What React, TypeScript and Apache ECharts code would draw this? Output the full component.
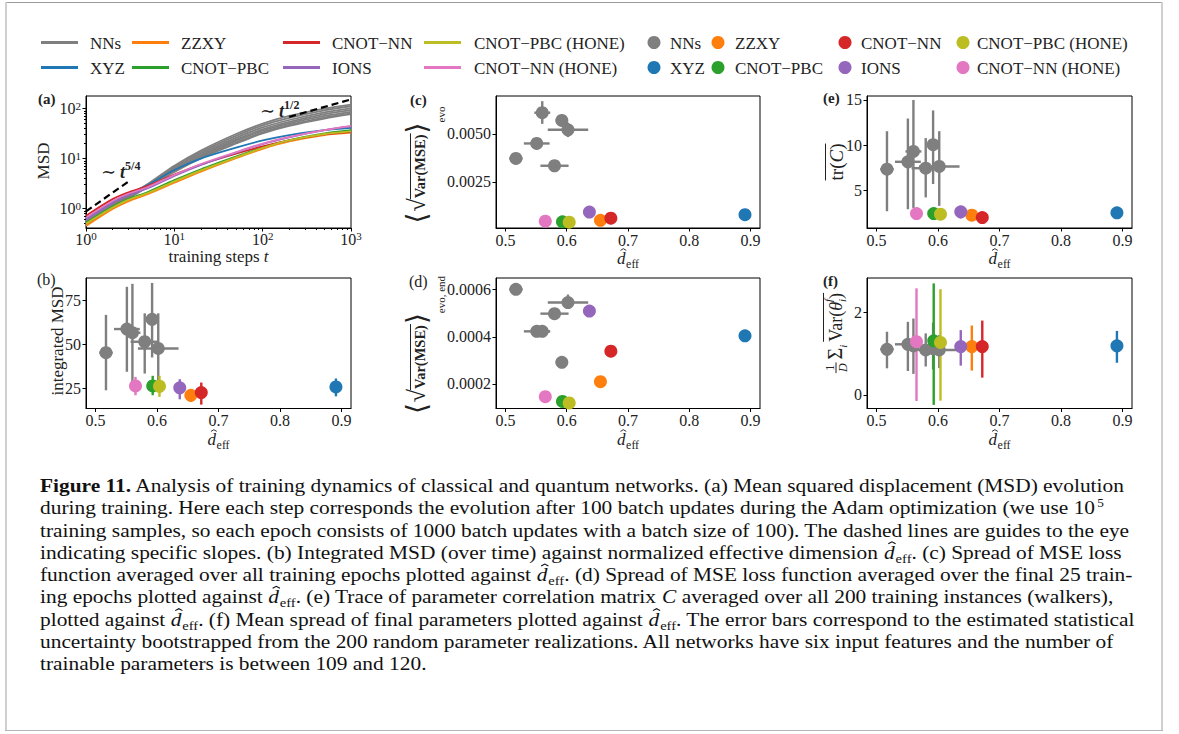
import React, { useEffect, useRef } from "react";
import * as echarts from "echarts";

const FONT = "'Liberation Serif', 'DejaVu Serif', serif";
const INK = "#222222";

// ---------- groups ----------
const GROUP_NAMES = ["NNs", "XYZ", "ZZXY", "CNOT−PBC", "CNOT−NN", "IONS", "CNOT−PBC (HONE)", "CNOT−NN (HONE)"];
const GROUP_COLORS = ["#7f7f7f", "#1f77b4", "#ff7f0e", "#2ca02c", "#d62728", "#9467bd", "#bcbd22", "#e377c2"];

// ---------- panel (a): MSD vs training steps ----------
const STEPS = [1, 2, 3, 5, 10, 20, 50, 100, 200, 500, 1000];
const MSD_NNS = [
  [0.55, 1.22, 1.83, 3.1, 7.2, 14.5, 31, 50, 71, 100, 120],
  [0.53, 1.18, 1.77, 3.0, 6.8, 13.5, 28.5, 46, 65, 92, 111],
  [0.51, 1.14, 1.71, 2.9, 6.4, 12.6, 26, 42, 59, 84, 101],
  [0.5, 1.12, 1.68, 2.85, 6.1, 11.8, 24, 38.5, 54, 77, 93],
  [0.49, 1.1, 1.65, 2.8, 5.8, 11.1, 22.5, 36, 50.5, 71, 86],
  [0.48, 1.08, 1.62, 2.75, 5.6, 10.6, 21, 33.5, 47, 66, 80],
  [0.47, 1.06, 1.6, 2.7, 5.4, 10.2, 20, 32, 45, 63, 77],
];
const MSD_XYZ = [0.62, 1.35, 1.95, 2.95, 5.9, 10.0, 16.5, 23, 29.5, 37, 41];
const MSD_ZZXY = [0.45, 0.98, 1.4, 1.95, 3.3, 5.5, 10.2, 15.7, 22, 29.5, 33];
const MSD_CNOT_PBC = [0.52, 1.1, 1.55, 2.15, 3.7, 6.1, 11, 16.8, 23.5, 32, 37];
const MSD_CNOT_NN = [0.72, 1.55, 2.1, 2.85, 4.8, 7.6, 12.5, 17.5, 23, 30.5, 34];
const MSD_IONS = [0.6, 1.3, 1.85, 2.55, 4.5, 7.5, 13.2, 19.5, 26.5, 37, 44];
const MSD_CNOT_PBC_HONE = [0.5, 1.05, 1.5, 2.05, 3.5, 5.8, 10.6, 16.3, 23, 31, 35];
const MSD_CNOT_NN_HONE = [0.66, 1.42, 1.98, 2.7, 4.7, 7.8, 13.5, 20, 27, 37, 45];
const GUIDE_T54 = [[1, 0.88], [3, 3.45]];
const GUIDE_T12 = [[200, 68], [1000, 152]];
const LOG_MAJOR_X = [1, 10, 100, 1000];
const LOG_MINOR_X = [2, 3, 4, 5, 6, 7, 8, 9, 20, 30, 40, 50, 60, 70, 80, 90, 200, 300, 400, 500, 600, 700, 800, 900];
const LOG_MAJOR_Y = [1, 10, 100];
const LOG_MINOR_Y = [0.5, 0.6, 0.7, 0.8, 0.9, 2, 3, 4, 5, 6, 7, 8, 9, 20, 30, 40, 50, 60, 70, 80, 90];

// ---------- normalized effective dimension ----------
const DEFF_NNS = [0.517, 0.551, 0.56, 0.58, 0.592, 0.602];
const DEFF_NNS_ERR = [0.011, 0.021, 0.013, 0.023, 0.01, 0.033];
// order: XYZ, ZZXY, CNOT−PBC, CNOT−NN, IONS, CNOT−PBC (HONE), CNOT−NN (HONE)
const DEFF_QNN = [0.891, 0.655, 0.593, 0.672, 0.637, 0.604, 0.565];

// ---------- panel (b): integrated MSD ----------
const IMSD_NNS = [45.3, 58.7, 56.6, 51.5, 64.2, 47.7];
const IMSD_NNS_LO = [24.0, 34.5, 24.0, 33.5, 42.6, 24.5];
const IMSD_NNS_HI = [66.7, 82.6, 84.3, 67.6, 84.8, 67.6];
const IMSD_QNN = [25.9, 21.2, 26.5, 22.7, 25.4, 26.3, 26.5];
const IMSD_QNN_LO = [20.6, 17.4, 21.2, 15.9, 18.9, 20.3, 21.2];
const IMSD_QNN_HI = [30.7, 24.0, 32.2, 28.4, 30.3, 32.2, 31.6];

// ---------- panel (c): spread of MSE over all epochs ----------
const SPREAD_EVO_NNS = [0.00372, 0.0045, 0.0061, 0.00334, 0.0057, 0.00521];
const SPREAD_EVO_NNS_LO = [0.00348, 0.0044, 0.00552, 0.00325, 0.00544, 0.00483];
const SPREAD_EVO_NNS_HI = [0.00399, 0.0046, 0.0067, 0.00343, 0.006, 0.00558];
const SPREAD_EVO_QNN = [0.00079, 0.0005, 0.00042, 0.00061, 0.00093, 0.0004, 0.000455];
const SPREAD_EVO_QNN_LO = [0.00077, 0.00048, 0.0004, 0.00059, 0.00091, 0.00038, 0.000435];
const SPREAD_EVO_QNN_HI = [0.00081, 0.00052, 0.00044, 0.00063, 0.00095, 0.00042, 0.000475];

// ---------- panel (d): spread of MSE over final epochs ----------
const SPREAD_END_NNS = [0.000601, 0.000423, 0.000423, 0.000498, 0.000292, 0.000545];
const SPREAD_END_NNS_LO = [0.000595, 0.000417, 0.000417, 0.000492, 0.000286, 0.000519];
const SPREAD_END_NNS_HI = [0.000607, 0.000429, 0.000429, 0.000504, 0.000298, 0.000579];
const SPREAD_END_QNN = [0.000404, 0.00021, 0.000126, 0.000339, 0.000509, 0.00012, 0.000146];
const SPREAD_END_QNN_LO = [0.000401, 0.000207, 0.000123, 0.000336, 0.000506, 0.000117, 0.000143];
const SPREAD_END_QNN_HI = [0.000407, 0.000213, 0.000129, 0.000342, 0.000512, 0.000123, 0.000149];

// ---------- panel (e): trace of correlation matrix ----------
const TRC_NNS = [7.37, 8.19, 9.33, 7.48, 10.07, 7.67];
const TRC_NNS_LO = [2.74, 2.96, 3.1, 4.26, 5.74, 3.33];
const TRC_NNS_HI = [11.56, 12.96, 15.0, 10.8, 13.85, 11.56];
const TRC_QNN = [2.56, 2.3, 2.48, 2.04, 2.67, 2.41, 2.48];
const TRC_QNN_LO = [2.4, 2.15, 2.33, 1.9, 1.93, 2.26, 2.33];
const TRC_QNN_HI = [2.72, 2.45, 2.63, 2.18, 3.33, 2.56, 2.63];

// ---------- panel (f): mean spread of final parameters ----------
const VARF_NNS = [1.105, 1.226, 1.19, 1.09, 1.12, 1.09];
const VARF_NNS_LO = [0.645, 0.58, 0.51, 0.69, 0.62, 0.65];
const VARF_NNS_HI = [1.53, 1.77, 1.85, 1.49, 1.75, 1.45];
const VARF_QNN = [1.19, 1.17, 1.31, 1.17, 1.17, 1.27, 1.29];
const VARF_QNN_LO = [0.78, 0.59, -0.24, 0.42, 0.71, -0.137, -0.145];
const VARF_QNN_HI = [1.55, 1.68, 2.7, 1.8, 1.57, 2.56, 2.58];

const X_DEFF_TICKS = [0.5, 0.6, 0.7, 0.8, 0.9];

const CAPTION_LINES = [
  "**Figure 11.** Analysis of training dynamics of classical and quantum networks. (a) Mean squared displacement (MSD) evolution",
  "during training. Here each step corresponds the evolution after 100 batch updates during the Adam optimization (we use 10^5^",
  "training samples, so each epoch consists of 1000 batch updates with a batch size of 100). The dashed lines are guides to the eye",
  "indicating specific slopes. (b) Integrated MSD (over time) against normalized effective dimension @. (c) Spread of MSE loss",
  "function averaged over all training epochs plotted against @. (d) Spread of MSE loss function averaged over the final 25 train-",
  "ing epochs plotted against @. (e) Trace of parameter correlation matrix _C_ averaged over all 200 training instances (walkers),",
  "plotted against @. (f) Mean spread of final parameters plotted against @. The error bars correspond to the estimated statistical",
  "uncertainty bootstrapped from the 200 random parameter realizations. All networks have six input features and the number of",
  "trainable parameters is between 109 and 120.",
];

// ---------- text helpers ----------
type Piece = {
  t: string; s: number; it?: boolean; b?: boolean; dy?: number; cy?: number; dx?: number; adv?: number;
  al?: "left" | "center"; fill?: string; hat?: boolean;
};

let measureCtx: CanvasRenderingContext2D | null = null;
function textW(t: string, s: number, it?: boolean, b?: boolean): number {
  if (!measureCtx) measureCtx = document.createElement("canvas").getContext("2d");
  if (!measureCtx) return t.length * s * 0.5;
  measureCtx.font = `${it ? "italic " : ""}${b ? "bold " : ""}${s}px ${FONT}`;
  return measureCtx.measureText(t).width;
}

function placePieces(pieces: Piece[], x0: number, base: number, fill = INK) {
  let x = x0;
  const els: any[] = [];
  const starts: number[] = [];
  for (const p of pieces) {
    starts.push(x);
    if (p.hat) {
      const cx = x + (p.dx || 0);
      const top = base + (p.dy || 0);
      const hw = p.s * 0.17;
      els.push({
        type: "polyline", silent: true,
        shape: { points: [[cx - hw, top + p.s * 0.1], [cx, top], [cx + hw, top + p.s * 0.1]] },
        style: { stroke: p.fill || fill, lineWidth: Math.max(0.9, p.s * 0.055), fill: "none" },
      });
      continue;
    }
    const w = p.t ? textW(p.t, p.s, p.it, p.b) : 0;
    if (p.t) {
      els.push({
        type: "text",
        silent: true,
        x: x + (p.dx || 0),
        y: p.cy !== undefined ? p.cy : base + (p.dy || 0) - 0.35 * p.s,
        style: {
          text: p.t, fill: p.fill || fill, fontSize: p.s, fontFamily: FONT,
          fontStyle: p.it ? "italic" : "normal", fontWeight: p.b ? "bold" : "normal",
          align: p.al || "left", verticalAlign: "middle",
        },
      });
    }
    x += p.adv !== undefined ? p.adv : w;
  }
  starts.push(x);
  return { els, width: x - x0, starts };
}

function centered(pieces: Piece[], base: number, fill = INK) {
  const w = placePieces(pieces, 0, base, fill).width;
  return placePieces(pieces, -w / 2, base, fill);
}

function dhat(S: number, sub = 0.7): Piece[] {
  const wd = textW("d", S, true);
  return [
    { t: "d", s: S, it: true },
    { t: "", s: S, hat: true, dx: -wd / 2 + S * 0.13, dy: -S * 0.9 },
    { t: "", s: 0, adv: S * 0.04 },
    { t: "eff", s: S * sub, dy: S * 0.22 },
  ];
}

function captionPieces(line: string, S: number): Piece[] {
  const parts = line.split(/(\*\*.+?\*\*|\^.+?\^|_.+?_|@)/g).filter((s) => s.length > 0);
  const out: Piece[] = [];
  for (const p of parts) {
    if (p.startsWith("**") && p.endsWith("**") && p.length > 4) out.push({ t: p.slice(2, -2), s: S, b: true });
    else if (p.startsWith("^") && p.endsWith("^") && p.length > 2) out.push({ t: p.slice(1, -1), s: S * 0.62, dy: -S * 0.36 });
    else if (p.startsWith("_") && p.endsWith("_") && p.length > 2) out.push({ t: p.slice(1, -1), s: S, it: true });
    else if (p === "@") out.push(...dhat(S, 0.68));
    else out.push({ t: p, s: S });
  }
  return out;
}

function hline(x1: number, x2: number, y: number, w = 1, color = INK) {
  return { type: "line", silent: true, shape: { x1, y1: y, x2, y2: y }, style: { stroke: color, lineWidth: w } };
}

// ---------- chart layout ----------
const GRID_BOXES = [
  { left: 86, top: 96, width: 265, height: 132 },
  { left: 86, top: 278, width: 265, height: 130.5 },
  { left: 496, top: 96, width: 264, height: 132 },
  { left: 496, top: 278, width: 264, height: 130.5 },
  { left: 867, top: 96, width: 265, height: 132 },
  { left: 867, top: 278, width: 265, height: 130.5 },
];

function errRender(color: string, w: number) {
  return (_params: any, api: any) => {
    const x = api.value(0);
    const y = api.value(1);
    const a = api.coord([x, api.value(4)]);
    const b = api.coord([x, api.value(5)]);
    const c = api.coord([api.value(2), y]);
    const d = api.coord([api.value(3), y]);
    const children: any[] = [
      { type: "line", shape: { x1: a[0], y1: a[1], x2: b[0], y2: b[1] }, style: { stroke: color, lineWidth: w } },
    ];
    if (Math.abs(d[0] - c[0]) > 0.5) {
      children.push({ type: "line", shape: { x1: c[0], y1: c[1], x2: d[0], y2: d[1] }, style: { stroke: color, lineWidth: w } });
    }
    return { type: "group", children };
  };
}

function scatterPanel(ax: number, nnY: number[], nnLo: number[], nnHi: number[], qY: number[], qLo: number[], qHi: number[]) {
  const rowsPerGroup: number[][][] = [];
  rowsPerGroup.push(DEFF_NNS.map((x, i) => [x, nnY[i], x - DEFF_NNS_ERR[i], x + DEFF_NNS_ERR[i], nnLo[i], nnHi[i]]));
  for (let g = 0; g < 7; g++) rowsPerGroup.push([[DEFF_QNN[g], qY[g], DEFF_QNN[g], DEFF_QNN[g], qLo[g], qHi[g]]]);
  const out: any[] = [];
  rowsPerGroup.forEach((rows, g) =>
    out.push({
      type: "custom", name: GROUP_NAMES[g], xAxisIndex: ax, yAxisIndex: ax, z: 2, silent: true, clip: false,
      encode: { x: 0, y: 1 }, data: rows, renderItem: errRender(GROUP_COLORS[g], 2.4),
    })
  );
  rowsPerGroup.forEach((rows, g) =>
    out.push({
      type: "scatter", name: GROUP_NAMES[g], xAxisIndex: ax, yAxisIndex: ax, z: 3, silent: true,
      symbol: "circle", symbolSize: 13, itemStyle: { color: GROUP_COLORS[g], opacity: 1 },
      data: rows.map((r) => [r[0], r[1]]),
    })
  );
  return out;
}

const tickStyle = { color: "#000", width: 1 };

function vAxis(grid: number, isY: boolean, min: number, max: number, ticks: number[], fmt: (v: number) => string) {
  return {
    type: "value", gridIndex: grid, min, max, position: isY ? "left" : "bottom",
    axisLine: { show: true, onZero: false, lineStyle: { color: "#000", width: 1 } },
    axisTick: { show: true, inside: false, length: 3.5, customValues: ticks, lineStyle: tickStyle },
    axisLabel: {
      show: true, customValues: ticks, formatter: (v: number) => fmt(v),
      color: INK, fontFamily: FONT, fontSize: 16, margin: isY ? 5 : 4,
    },
    splitLine: { show: false },
  };
}

const logRich = {
  b: { fontSize: 16, lineHeight: 14, fontFamily: FONT, color: INK },
  e: { fontSize: 11, lineHeight: 11, fontFamily: FONT, color: INK, padding: [0, 0, 6, 0] },
};
const logFmt = (v: number) => `{b|10}{e|${Math.round(Math.log10(v))}}`;

function logAxis(isY: boolean, min: number, max: number, ticks: number[], minor: boolean) {
  return {
    type: "log", logBase: 10, gridIndex: 0, min, max, position: isY ? "left" : "bottom",
    axisLine: { show: !minor, onZero: false, lineStyle: { color: "#000", width: 1 } },
    axisTick: { show: true, inside: false, length: minor ? 2 : 3.5, customValues: ticks, lineStyle: tickStyle },
    axisLabel: minor
      ? { show: false }
      : { show: true, customValues: ticks, formatter: logFmt, rich: logRich, margin: isY ? 5 : 4, fontFamily: FONT, fontSize: 16, color: INK },
    splitLine: { show: false },
  };
}

function buildOption() {
  const grids = GRID_BOXES.map((g) => ({
    ...g, show: true, borderColor: "#000", borderWidth: 1, containLabel: false, outerBoundsMode: "none",
  }));

  const xMin = 0.4845;
  const xMax = 0.9155;
  const fx = (v: number) => v.toFixed(1);
  const xAxis = [
    logAxis(false, 1, 1000, LOG_MAJOR_X, false),
    logAxis(false, 1, 1000, LOG_MINOR_X, true),
    vAxis(1, false, xMin, xMax, X_DEFF_TICKS, fx),
    vAxis(2, false, xMin, xMax, X_DEFF_TICKS, fx),
    vAxis(3, false, xMin, xMax, X_DEFF_TICKS, fx),
    vAxis(4, false, xMin, xMax, X_DEFF_TICKS, fx),
    vAxis(5, false, xMin, xMax, X_DEFF_TICKS, fx),
  ];
  const yAxis = [
    logAxis(true, 0.41, 178, LOG_MAJOR_Y, false),
    logAxis(true, 0.41, 178, LOG_MINOR_Y, true),
    vAxis(1, true, 13.7, 87.6, [25, 50, 75], (v) => String(Math.round(v))),
    vAxis(2, true, 0.0001, 0.00697, [0.0025, 0.005], (v) => v.toFixed(4)),
    vAxis(3, true, 0.0000962, 0.000649, [0.0002, 0.0004, 0.0006], (v) => v.toFixed(4)),
    vAxis(4, true, 0.89, 15.44, [5, 10, 15], (v) => String(Math.round(v))),
    vAxis(5, true, -0.327, 2.83, [0, 2], (v) => String(Math.round(v))),
  ];

  const series: any[] = [];
  const curves: { vals: number[]; color: string }[] = [
    ...MSD_NNS.map((vals) => ({ vals, color: GROUP_COLORS[0] })),
    { vals: MSD_XYZ, color: GROUP_COLORS[1] },
    { vals: MSD_ZZXY, color: GROUP_COLORS[2] },
    { vals: MSD_CNOT_PBC, color: GROUP_COLORS[3] },
    { vals: MSD_CNOT_NN, color: GROUP_COLORS[4] },
    { vals: MSD_IONS, color: GROUP_COLORS[5] },
    { vals: MSD_CNOT_PBC_HONE, color: GROUP_COLORS[6] },
    { vals: MSD_CNOT_NN_HONE, color: GROUP_COLORS[7] },
  ];
  curves.forEach((c) =>
    series.push({
      type: "line", xAxisIndex: 0, yAxisIndex: 0, silent: true, showSymbol: false, symbol: "none",
      smooth: 0.3, z: 2,
      lineStyle: { color: c.color, width: 1.8 },
      data: STEPS.map((t, i) => [t, c.vals[i]]),
    })
  );
  [GUIDE_T54, GUIDE_T12].forEach((g) =>
    series.push({
      type: "line", xAxisIndex: 0, yAxisIndex: 0, silent: true, showSymbol: false, symbol: "none", z: 4,
      lineStyle: { color: "#000", width: 2.2, type: [7, 4] }, data: g,
    })
  );
  series.push(...scatterPanel(2, IMSD_NNS, IMSD_NNS_LO, IMSD_NNS_HI, IMSD_QNN, IMSD_QNN_LO, IMSD_QNN_HI));
  series.push(...scatterPanel(3, SPREAD_EVO_NNS, SPREAD_EVO_NNS_LO, SPREAD_EVO_NNS_HI, SPREAD_EVO_QNN, SPREAD_EVO_QNN_LO, SPREAD_EVO_QNN_HI));
  series.push(...scatterPanel(4, SPREAD_END_NNS, SPREAD_END_NNS_LO, SPREAD_END_NNS_HI, SPREAD_END_QNN, SPREAD_END_QNN_LO, SPREAD_END_QNN_HI));
  series.push(...scatterPanel(5, TRC_NNS, TRC_NNS_LO, TRC_NNS_HI, TRC_QNN, TRC_QNN_LO, TRC_QNN_HI));
  series.push(...scatterPanel(6, VARF_NNS, VARF_NNS_LO, VARF_NNS_HI, VARF_QNN, VARF_QNN_LO, VARF_QNN_HI));

  // ---------- graphic ----------
  const els: any[] = [];
  // page frame
  els.push({ type: "line", silent: true, shape: { x1: 5, y1: 2.5, x2: 1163, y2: 2.5 }, style: { stroke: "#9a9a9a", lineWidth: 1 } });
  els.push({ type: "line", silent: true, shape: { x1: 6, y1: 2, x2: 6, y2: 731 }, style: { stroke: "#cfcfcf", lineWidth: 2 } });
  els.push({ type: "line", silent: true, shape: { x1: 1162, y1: 2, x2: 1162, y2: 731 }, style: { stroke: "#cfcfcf", lineWidth: 2 } });
  els.push({ type: "line", silent: true, shape: { x1: 5, y1: 730.5, x2: 1163, y2: 730.5 }, style: { stroke: "#b5b5b5", lineWidth: 1 } });

  // legends
  const ROWS = [42.5, 67.5];
  const LINE_X = [41, 132, 283, 424];
  const LINE_TX = [90, 181, 332, 474];
  const DOT_X = [654, 718, 845, 963];
  const DOT_TX = [670, 735, 861, 977];
  for (let c = 0; c < 4; c++) {
    for (let r = 0; r < 2; r++) {
      const g = c * 2 + r;
      const y = ROWS[r];
      els.push({ type: "line", silent: true, shape: { x1: LINE_X[c], y1: y, x2: LINE_X[c] + 37, y2: y }, style: { stroke: GROUP_COLORS[g], lineWidth: 3 } });
      els.push({ type: "text", silent: true, x: LINE_TX[c], y: y + 0.5, style: { text: GROUP_NAMES[g], fill: INK, fontSize: 17, fontFamily: FONT, align: "left", verticalAlign: "middle" } });
      els.push({ type: "circle", silent: true, shape: { cx: DOT_X[c], cy: y, r: 6.5 }, style: { fill: GROUP_COLORS[g] } });
      els.push({ type: "text", silent: true, x: DOT_TX[c], y: y + 0.5, style: { text: GROUP_NAMES[g], fill: INK, fontSize: 17, fontFamily: FONT, align: "left", verticalAlign: "middle" } });
    }
  }

  // panel letters
  const letters: [string, number, number, boolean, number][] = [
    ["(a)", 38, 99, true, 15], ["(b)", 37, 279, false, 16], ["(c)", 410, 100, true, 15],
    ["(d)", 409, 281, false, 16], ["(e)", 823, 98, true, 15], ["(f)", 823, 281, true, 15],
  ];
  letters.forEach(([t, x, y, b, s]) =>
    els.push({ type: "text", silent: true, x, y, style: { text: t, fill: INK, fontSize: s, fontFamily: FONT, fontWeight: b ? "bold" : "normal", align: "left", verticalAlign: "middle" } })
  );

  // y-axis titles (a), (b)
  const rotText = (t: string, x: number, y: number, s: number) => ({
    type: "text", silent: true, x, y, rotation: Math.PI / 2,
    style: { text: t, fill: INK, fontSize: s, fontFamily: FONT, align: "center", verticalAlign: "middle" },
  });
  els.push(rotText("MSD", 43, 161, 17));
  els.push(rotText("integrated MSD", 57, 341, 17));

  // x-axis titles
  const xt = centered([{ t: "training steps ", s: 17 }, { t: "t", s: 17, it: true }], 0);
  els.push({ type: "group", x: 218.5, y: 262, silent: true, children: xt.els });
  const dAxisTitle = (cx: number, base: number) => {
    const r = centered(dhat(17, 0.7), 0);
    return { type: "group", x: cx, y: base, silent: true, children: r.els };
  };
  els.push(dAxisTitle(218.5, 445));
  els.push(dAxisTitle(628, 264));
  els.push(dAxisTitle(628, 445));
  els.push(dAxisTitle(999.5, 264));
  els.push(dAxisTitle(999.5, 445));

  // y titles (c), (d)
  const spreadTitle = (cx: number, cy: number, sub: string) => {
    const pieces: Piece[] = [
      { t: "⟨", s: 28, cy: -5 },
      { t: "", s: 0, adv: 1 },
      { t: "√", s: 24, cy: -4 },
      { t: "Var(MSE)", s: 14.5, b: true, cy: -1 },
      { t: "", s: 0, adv: 1 },
      { t: "⟩", s: 28, cy: -5 },
      { t: sub, s: 11, cy: 20 },
    ];
    const r = centered(pieces, 0);
    const vin = { type: "line", silent: true, shape: { x1: r.starts[3] - 1, y1: -10.5, x2: r.starts[4] + 1, y2: -10.5 }, style: { stroke: INK, lineWidth: 1 } };
    return { type: "group", x: cx, y: cy, rotation: Math.PI / 2, silent: true, children: [...r.els, vin] };
  };
  els.push(spreadTitle(421, 165, "evo"));
  els.push(spreadTitle(421, 345, "evo, end"));

  // y title (e)
  {
    const r = centered([{ t: "tr(", s: 19, cy: 0 }, { t: "C", s: 19, it: true, cy: 0 }, { t: ")", s: 19, cy: 0 }], 0);
    els.push({ type: "group", x: 836, y: 162, rotation: Math.PI / 2, silent: true, children: [...r.els, hline(r.starts[0], r.starts[3], -10.5, 1)] });
  }
  // y title (f)
  {
    const fw = textW("D", 12, true) + 2;
    const pieces: Piece[] = [
      { t: "1", s: 12, cy: -6.5, al: "center", dx: fw / 2, adv: 0 },
      { t: "D", s: 12, it: true, cy: 6.5, al: "center", dx: fw / 2, adv: fw },
      { t: "", s: 0, adv: 3 },
      { t: "Σ", s: 20, cy: -1 },
      { t: "i", s: 11, it: true, cy: 7 },
      { t: "", s: 0, adv: 3 },
      { t: "Var(", s: 18, cy: 0 },
      { t: "θ", s: 18, it: true, cy: 0 },
      { t: "f", s: 11, it: true, cy: -8, adv: 0 },
      { t: "i", s: 11, it: true, cy: 6 },
      { t: ")", s: 18, cy: 0 },
    ];
    const r = centered(pieces, 0);
    els.push({
      type: "group", x: 836, y: 333, rotation: Math.PI / 2, silent: true,
      children: [...r.els, hline(r.starts[0], r.starts[2], 0, 1), hline(r.starts[6], r.starts[11], -12.5, 1)],
    });
  }

  // slope annotations in (a)
  els.push(...placePieces([{ t: "∼", s: 18 }, { t: "", s: 0, adv: 4 }, { t: "t", s: 18, it: true, b: true }, { t: "5/4", s: 12, b: true, dy: -8 }], 101, 178).els);
  els.push(...placePieces([{ t: "∼", s: 18 }, { t: "", s: 0, adv: 4 }, { t: "t", s: 18, it: true, b: true }, { t: "1/2", s: 12, b: true, dy: -8 }], 260, 117).els);

  // caption: uniform horizontal scale so the first line spans the same width as the reference
  const CAP_LEFT = 40;
  const CAP_RIGHT = 1126;
  const S = 19;
  const w1 = placePieces(captionPieces(CAPTION_LINES[0], S), 0, 0).width;
  const sx = Math.max(0.9, Math.min(1.3, (CAP_RIGHT - CAP_LEFT) / w1));
  const capEls: any[] = [];
  CAPTION_LINES.forEach((ln, k) => {
    capEls.push(...placePieces(captionPieces(ln, S), 0, 492 + k * 22.3, "#111111").els);
  });
  els.push({ type: "group", x: CAP_LEFT, y: 0, scaleX: sx, scaleY: 1, silent: true, children: capEls });

  return {
    animation: false,
    backgroundColor: "#ffffff",
    textStyle: { fontFamily: FONT },
    grid: grids,
    xAxis,
    yAxis,
    series,
    graphic: { elements: els },
  };
}

export default function App() {
  const ref = useRef<HTMLDivElement>(null);
  useEffect(() => {
    if (!ref.current) return;
    const chart = echarts.init(ref.current, null, { renderer: "svg" });
    chart.setOption(buildOption() as any);
    return () => chart.dispose();
  }, []);
  return (
    <div
      ref={ref}
      style={{ position: "fixed", left: 0, top: 0, width: 1179, height: 734, background: "#ffffff" }}
    />
  );
}
